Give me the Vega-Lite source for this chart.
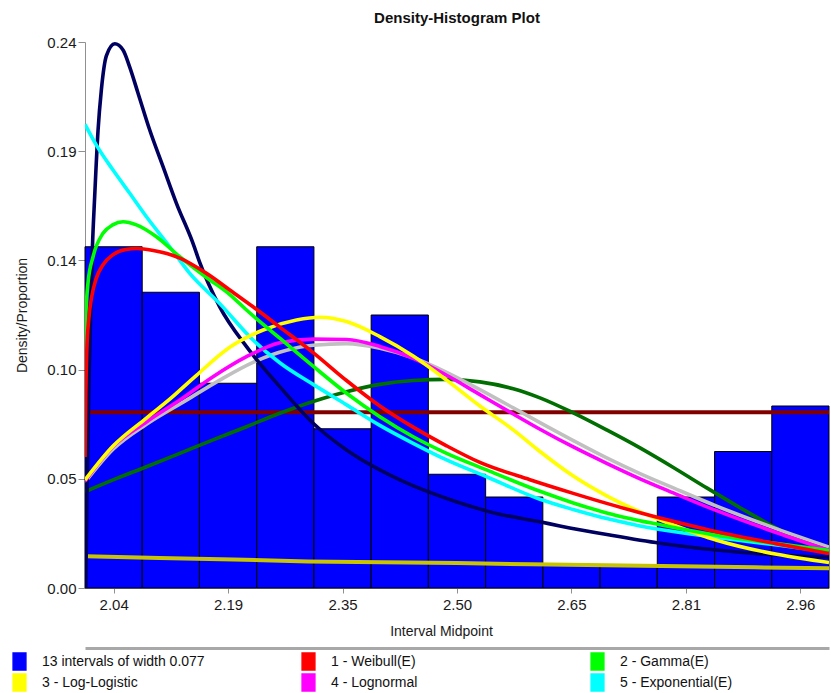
{
  "$schema": "https://vega.github.io/schema/vega-lite/v6.json",
  "autosize": "none",
  "padding": {"left": 85, "top": 42, "right": 2, "bottom": 105},
  "width": 744,
  "height": 546,
  "background": "white",
  "title": {"text": "Density-Histogram Plot", "font": "Liberation Sans", "fontSize": 15, "fontWeight": "bold", "color": "#111", "anchor": "middle", "offset": 9},
  "config": {"view": {"stroke": null}, "font": "Liberation Sans"},
  "resolve": {"axis": {"x": "independent"}},
  "datasets": {
    "bars": [
      {"lo": 2.0, "hi": 2.0769, "p": 0.15, "series": "13 intervals of width 0.077"},
      {"lo": 2.0769, "hi": 2.1538, "p": 0.13, "series": "13 intervals of width 0.077"},
      {"lo": 2.1538, "hi": 2.2308, "p": 0.09, "series": "13 intervals of width 0.077"},
      {"lo": 2.2308, "hi": 2.3077, "p": 0.15, "series": "13 intervals of width 0.077"},
      {"lo": 2.3077, "hi": 2.3846, "p": 0.07, "series": "13 intervals of width 0.077"},
      {"lo": 2.3846, "hi": 2.4615, "p": 0.12, "series": "13 intervals of width 0.077"},
      {"lo": 2.4615, "hi": 2.5385, "p": 0.05, "series": "13 intervals of width 0.077"},
      {"lo": 2.5385, "hi": 2.6154, "p": 0.04, "series": "13 intervals of width 0.077"},
      {"lo": 2.6154, "hi": 2.6923, "p": 0.01, "series": "13 intervals of width 0.077"},
      {"lo": 2.6923, "hi": 2.7692, "p": 0.01, "series": "13 intervals of width 0.077"},
      {"lo": 2.7692, "hi": 2.8462, "p": 0.04, "series": "13 intervals of width 0.077"},
      {"lo": 2.8462, "hi": 2.9231, "p": 0.06, "series": "13 intervals of width 0.077"},
      {"lo": 2.9231, "hi": 3.0, "p": 0.08, "series": "13 intervals of width 0.077"}
    ],
    "thick": [
      {"s": "olive", "x": 2.002, "y": 0.0140},
      {"s": "olive", "x": 2.1, "y": 0.0132},
      {"s": "olive", "x": 2.2, "y": 0.0125},
      {"s": "olive", "x": 2.3, "y": 0.0117},
      {"s": "olive", "x": 2.4, "y": 0.0113},
      {"s": "olive", "x": 2.5, "y": 0.0110},
      {"s": "olive", "x": 2.6, "y": 0.0104},
      {"s": "olive", "x": 2.7, "y": 0.0100},
      {"s": "olive", "x": 2.8, "y": 0.0096},
      {"s": "olive", "x": 2.9, "y": 0.0091},
      {"s": "olive", "x": 3.0, "y": 0.0087},
      {"s": "dkred", "x": 2.0, "y": 0.0772},
      {"s": "dkred", "x": 3.0, "y": 0.0772}
    ],
    "extras": [
      {"s": "dkgreen", "x": 2.0, "y": 0.0423},
      {"s": "dkgreen", "x": 2.0377, "y": 0.0475},
      {"s": "dkgreen", "x": 2.0826, "y": 0.0533},
      {"s": "dkgreen", "x": 2.1274, "y": 0.0592},
      {"s": "dkgreen", "x": 2.1721, "y": 0.0651},
      {"s": "dkgreen", "x": 2.2171, "y": 0.0709},
      {"s": "dkgreen", "x": 2.2618, "y": 0.0768},
      {"s": "dkgreen", "x": 2.3066, "y": 0.0820},
      {"s": "dkgreen", "x": 2.3515, "y": 0.0863},
      {"s": "dkgreen", "x": 2.3963, "y": 0.0895},
      {"s": "dkgreen", "x": 2.4411, "y": 0.0912},
      {"s": "dkgreen", "x": 2.4860, "y": 0.0917},
      {"s": "dkgreen", "x": 2.5308, "y": 0.0906},
      {"s": "dkgreen", "x": 2.5756, "y": 0.0876},
      {"s": "dkgreen", "x": 2.6115, "y": 0.0836},
      {"s": "dkgreen", "x": 2.6563, "y": 0.0770},
      {"s": "dkgreen", "x": 2.7012, "y": 0.0695},
      {"s": "dkgreen", "x": 2.7460, "y": 0.0616},
      {"s": "dkgreen", "x": 2.7908, "y": 0.0530},
      {"s": "dkgreen", "x": 2.8357, "y": 0.0440},
      {"s": "dkgreen", "x": 2.8805, "y": 0.0353},
      {"s": "dkgreen", "x": 2.9208, "y": 0.0278},
      {"s": "dkgreen", "x": 2.9600, "y": 0.0214},
      {"s": "dkgreen", "x": 3.0, "y": 0.0160},
      {"s": "gray", "x": 2.0, "y": 0.0465},
      {"s": "gray", "x": 2.0377, "y": 0.0610},
      {"s": "gray", "x": 2.0826, "y": 0.0720},
      {"s": "gray", "x": 2.1364, "y": 0.0826},
      {"s": "gray", "x": 2.1811, "y": 0.0914},
      {"s": "gray", "x": 2.2259, "y": 0.0992},
      {"s": "gray", "x": 2.2708, "y": 0.1045},
      {"s": "gray", "x": 2.3066, "y": 0.1067},
      {"s": "gray", "x": 2.3515, "y": 0.1074},
      {"s": "gray", "x": 2.3963, "y": 0.1054},
      {"s": "gray", "x": 2.4411, "y": 0.1012},
      {"s": "gray", "x": 2.4860, "y": 0.0948},
      {"s": "gray", "x": 2.5308, "y": 0.0872},
      {"s": "gray", "x": 2.5756, "y": 0.0792},
      {"s": "gray", "x": 2.6115, "y": 0.0727},
      {"s": "gray", "x": 2.6563, "y": 0.0648},
      {"s": "gray", "x": 2.7012, "y": 0.0572},
      {"s": "gray", "x": 2.7460, "y": 0.0503},
      {"s": "gray", "x": 2.7908, "y": 0.0440},
      {"s": "gray", "x": 2.8490, "y": 0.0360},
      {"s": "gray", "x": 2.9298, "y": 0.0260},
      {"s": "gray", "x": 3.0, "y": 0.0180},
      {"s": "navy", "x": 2.001, "y": 0.0},
      {"s": "navy", "x": 2.003, "y": 0.05},
      {"s": "navy", "x": 2.006, "y": 0.10},
      {"s": "navy", "x": 2.010, "y": 0.150},
      {"s": "navy", "x": 2.013, "y": 0.172},
      {"s": "navy", "x": 2.0175, "y": 0.201},
      {"s": "navy", "x": 2.022, "y": 0.219},
      {"s": "navy", "x": 2.0288, "y": 0.234},
      {"s": "navy", "x": 2.040, "y": 0.2392},
      {"s": "navy", "x": 2.0511, "y": 0.2365},
      {"s": "navy", "x": 2.060, "y": 0.2291},
      {"s": "navy", "x": 2.0713, "y": 0.2175},
      {"s": "navy", "x": 2.087, "y": 0.2013},
      {"s": "navy", "x": 2.1049, "y": 0.1852},
      {"s": "navy", "x": 2.1229, "y": 0.1691},
      {"s": "navy", "x": 2.1452, "y": 0.1515},
      {"s": "navy", "x": 2.1543, "y": 0.1430},
      {"s": "navy", "x": 2.1811, "y": 0.1236},
      {"s": "navy", "x": 2.2171, "y": 0.1061},
      {"s": "navy", "x": 2.2618, "y": 0.0885},
      {"s": "navy", "x": 2.3066, "y": 0.0724},
      {"s": "navy", "x": 2.3515, "y": 0.0607},
      {"s": "navy", "x": 2.3963, "y": 0.0519},
      {"s": "navy", "x": 2.4232, "y": 0.0475},
      {"s": "navy", "x": 2.5, "y": 0.0378},
      {"s": "navy", "x": 2.55, "y": 0.0330},
      {"s": "navy", "x": 2.6113, "y": 0.0291},
      {"s": "navy", "x": 2.6382, "y": 0.0273},
      {"s": "navy", "x": 2.7054, "y": 0.0233},
      {"s": "navy", "x": 2.7727, "y": 0.0197},
      {"s": "navy", "x": 2.8491, "y": 0.0167},
      {"s": "navy", "x": 2.9298, "y": 0.0145},
      {"s": "navy", "x": 3.0, "y": 0.0135}
    ],
    "fits": [
      {"s": "5 - Exponential(E)", "x": 2.0, "y": 0.2038},
      {"s": "5 - Exponential(E)", "x": 2.0153, "y": 0.1947},
      {"s": "5 - Exponential(E)", "x": 2.0377, "y": 0.1837},
      {"s": "5 - Exponential(E)", "x": 2.0601, "y": 0.1735},
      {"s": "5 - Exponential(E)", "x": 2.0826, "y": 0.1632},
      {"s": "5 - Exponential(E)", "x": 2.1139, "y": 0.1500},
      {"s": "5 - Exponential(E)", "x": 2.1408, "y": 0.1383},
      {"s": "5 - Exponential(E)", "x": 2.1811, "y": 0.1250},
      {"s": "5 - Exponential(E)", "x": 2.2259, "y": 0.1090},
      {"s": "5 - Exponential(E)", "x": 2.2618, "y": 0.0990},
      {"s": "5 - Exponential(E)", "x": 2.3066, "y": 0.0895},
      {"s": "5 - Exponential(E)", "x": 2.3515, "y": 0.0805},
      {"s": "5 - Exponential(E)", "x": 2.3963, "y": 0.0715},
      {"s": "5 - Exponential(E)", "x": 2.4411, "y": 0.0636},
      {"s": "5 - Exponential(E)", "x": 2.4860, "y": 0.0563},
      {"s": "5 - Exponential(E)", "x": 2.5398, "y": 0.0489},
      {"s": "5 - Exponential(E)", "x": 2.6115, "y": 0.0390},
      {"s": "5 - Exponential(E)", "x": 2.6563, "y": 0.0345},
      {"s": "5 - Exponential(E)", "x": 2.7012, "y": 0.0305},
      {"s": "5 - Exponential(E)", "x": 2.7460, "y": 0.0273},
      {"s": "5 - Exponential(E)", "x": 2.7729, "y": 0.0257},
      {"s": "5 - Exponential(E)", "x": 2.8491, "y": 0.0222},
      {"s": "5 - Exponential(E)", "x": 2.9298, "y": 0.0189},
      {"s": "5 - Exponential(E)", "x": 3.0, "y": 0.0160},
      {"s": "4 - Lognormal", "x": 2.0, "y": 0.0470},
      {"s": "4 - Lognormal", "x": 2.0377, "y": 0.0622},
      {"s": "4 - Lognormal", "x": 2.0826, "y": 0.0730},
      {"s": "4 - Lognormal", "x": 2.1274, "y": 0.0826},
      {"s": "4 - Lognormal", "x": 2.1721, "y": 0.0929},
      {"s": "4 - Lognormal", "x": 2.2171, "y": 0.1017},
      {"s": "4 - Lognormal", "x": 2.2618, "y": 0.1078},
      {"s": "4 - Lognormal", "x": 2.3066, "y": 0.1094},
      {"s": "4 - Lognormal", "x": 2.3515, "y": 0.1092},
      {"s": "4 - Lognormal", "x": 2.3963, "y": 0.1062},
      {"s": "4 - Lognormal", "x": 2.4411, "y": 0.1010},
      {"s": "4 - Lognormal", "x": 2.4860, "y": 0.0935},
      {"s": "4 - Lognormal", "x": 2.5308, "y": 0.0850},
      {"s": "4 - Lognormal", "x": 2.5756, "y": 0.0765},
      {"s": "4 - Lognormal", "x": 2.6115, "y": 0.0698},
      {"s": "4 - Lognormal", "x": 2.6563, "y": 0.0620},
      {"s": "4 - Lognormal", "x": 2.7012, "y": 0.0548},
      {"s": "4 - Lognormal", "x": 2.7460, "y": 0.0480},
      {"s": "4 - Lognormal", "x": 2.7908, "y": 0.0418},
      {"s": "4 - Lognormal", "x": 2.8490, "y": 0.0340},
      {"s": "4 - Lognormal", "x": 2.9298, "y": 0.0243},
      {"s": "4 - Lognormal", "x": 3.0, "y": 0.0165},
      {"s": "3 - Log-Logistic", "x": 2.0, "y": 0.0475},
      {"s": "3 - Log-Logistic", "x": 2.0377, "y": 0.0624},
      {"s": "3 - Log-Logistic", "x": 2.0826, "y": 0.0747},
      {"s": "3 - Log-Logistic", "x": 2.1139, "y": 0.0830},
      {"s": "3 - Log-Logistic", "x": 2.1498, "y": 0.0935},
      {"s": "3 - Log-Logistic", "x": 2.1946, "y": 0.1058},
      {"s": "3 - Log-Logistic", "x": 2.2394, "y": 0.1134},
      {"s": "3 - Log-Logistic", "x": 2.2843, "y": 0.1178},
      {"s": "3 - Log-Logistic", "x": 2.3156, "y": 0.1190},
      {"s": "3 - Log-Logistic", "x": 2.3515, "y": 0.1171},
      {"s": "3 - Log-Logistic", "x": 2.3963, "y": 0.1105},
      {"s": "3 - Log-Logistic", "x": 2.4411, "y": 0.1020},
      {"s": "3 - Log-Logistic", "x": 2.4860, "y": 0.0914},
      {"s": "3 - Log-Logistic", "x": 2.5308, "y": 0.0800},
      {"s": "3 - Log-Logistic", "x": 2.5756, "y": 0.0695},
      {"s": "3 - Log-Logistic", "x": 2.6115, "y": 0.0600},
      {"s": "3 - Log-Logistic", "x": 2.6563, "y": 0.0492},
      {"s": "3 - Log-Logistic", "x": 2.7012, "y": 0.0405},
      {"s": "3 - Log-Logistic", "x": 2.7460, "y": 0.0335},
      {"s": "3 - Log-Logistic", "x": 2.7908, "y": 0.0277},
      {"s": "3 - Log-Logistic", "x": 2.8490, "y": 0.0210},
      {"s": "3 - Log-Logistic", "x": 2.9298, "y": 0.0148},
      {"s": "3 - Log-Logistic", "x": 3.0, "y": 0.0112},
      {"s": "2 - Gamma(E)", "x": 2.0, "y": 0.0769},
      {"s": "2 - Gamma(E)", "x": 2.0003, "y": 0.1130},
      {"s": "2 - Gamma(E)", "x": 2.0040, "y": 0.1340},
      {"s": "2 - Gamma(E)", "x": 2.0108, "y": 0.1456},
      {"s": "2 - Gamma(E)", "x": 2.0242, "y": 0.1559},
      {"s": "2 - Gamma(E)", "x": 2.0373, "y": 0.1596},
      {"s": "2 - Gamma(E)", "x": 2.0511, "y": 0.1610},
      {"s": "2 - Gamma(E)", "x": 2.0691, "y": 0.1596},
      {"s": "2 - Gamma(E)", "x": 2.0960, "y": 0.1544},
      {"s": "2 - Gamma(E)", "x": 2.1274, "y": 0.1456},
      {"s": "2 - Gamma(E)", "x": 2.1633, "y": 0.1365},
      {"s": "2 - Gamma(E)", "x": 2.1946, "y": 0.1290},
      {"s": "2 - Gamma(E)", "x": 2.2171, "y": 0.1222},
      {"s": "2 - Gamma(E)", "x": 2.2618, "y": 0.1098},
      {"s": "2 - Gamma(E)", "x": 2.3066, "y": 0.0975},
      {"s": "2 - Gamma(E)", "x": 2.3515, "y": 0.0856},
      {"s": "2 - Gamma(E)", "x": 2.3963, "y": 0.0753},
      {"s": "2 - Gamma(E)", "x": 2.4411, "y": 0.0665},
      {"s": "2 - Gamma(E)", "x": 2.4860, "y": 0.0592},
      {"s": "2 - Gamma(E)", "x": 2.5398, "y": 0.0519},
      {"s": "2 - Gamma(E)", "x": 2.6115, "y": 0.0425},
      {"s": "2 - Gamma(E)", "x": 2.6563, "y": 0.0374},
      {"s": "2 - Gamma(E)", "x": 2.7012, "y": 0.0330},
      {"s": "2 - Gamma(E)", "x": 2.7729, "y": 0.0278},
      {"s": "2 - Gamma(E)", "x": 2.8491, "y": 0.0232},
      {"s": "2 - Gamma(E)", "x": 2.9298, "y": 0.0195},
      {"s": "2 - Gamma(E)", "x": 3.0, "y": 0.0165},
      {"s": "1 - Weibull(E)", "x": 2.0, "y": 0.0576},
      {"s": "1 - Weibull(E)", "x": 2.0010, "y": 0.0850},
      {"s": "1 - Weibull(E)", "x": 2.0025, "y": 0.1050},
      {"s": "1 - Weibull(E)", "x": 2.0050, "y": 0.1180},
      {"s": "1 - Weibull(E)", "x": 2.0090, "y": 0.1280},
      {"s": "1 - Weibull(E)", "x": 2.0150, "y": 0.1360},
      {"s": "1 - Weibull(E)", "x": 2.0240, "y": 0.1420},
      {"s": "1 - Weibull(E)", "x": 2.0377, "y": 0.1465},
      {"s": "1 - Weibull(E)", "x": 2.0550, "y": 0.1488},
      {"s": "1 - Weibull(E)", "x": 2.0700, "y": 0.1492},
      {"s": "1 - Weibull(E)", "x": 2.0900, "y": 0.1485},
      {"s": "1 - Weibull(E)", "x": 2.1100, "y": 0.1470},
      {"s": "1 - Weibull(E)", "x": 2.1274, "y": 0.1450},
      {"s": "1 - Weibull(E)", "x": 2.1633, "y": 0.1383},
      {"s": "1 - Weibull(E)", "x": 2.1946, "y": 0.1310},
      {"s": "1 - Weibull(E)", "x": 2.2259, "y": 0.1236},
      {"s": "1 - Weibull(E)", "x": 2.2618, "y": 0.1147},
      {"s": "1 - Weibull(E)", "x": 2.3066, "y": 0.1035},
      {"s": "1 - Weibull(E)", "x": 2.3515, "y": 0.0912},
      {"s": "1 - Weibull(E)", "x": 2.3963, "y": 0.0800},
      {"s": "1 - Weibull(E)", "x": 2.4411, "y": 0.0707},
      {"s": "1 - Weibull(E)", "x": 2.4860, "y": 0.0625},
      {"s": "1 - Weibull(E)", "x": 2.5308, "y": 0.0552},
      {"s": "1 - Weibull(E)", "x": 2.5980, "y": 0.0476},
      {"s": "1 - Weibull(E)", "x": 2.6563, "y": 0.0416},
      {"s": "1 - Weibull(E)", "x": 2.7012, "y": 0.0372},
      {"s": "1 - Weibull(E)", "x": 2.7460, "y": 0.0331},
      {"s": "1 - Weibull(E)", "x": 2.8042, "y": 0.0282},
      {"s": "1 - Weibull(E)", "x": 2.8491, "y": 0.0247},
      {"s": "1 - Weibull(E)", "x": 2.9298, "y": 0.0194},
      {"s": "1 - Weibull(E)", "x": 3.0, "y": 0.0152}
    ]
  },
  "layer": [
    {
      "data": {"name": "bars"},
      "mark": {"type": "bar", "stroke": "black", "strokeWidth": 1, "opacity": 1},
      "encoding": {
        "x": {
          "field": "lo", "type": "quantitative",
          "scale": {"domain": [2.0, 3.0], "nice": false, "zero": false},
          "axis": {
            "values": [2.0385, 2.1923, 2.3462, 2.5, 2.6538, 2.8077, 2.9615],
            "format": ".2f", "title": "Interval Midpoint", "grid": false,
            "labelFont": "Liberation Sans", "labelFontSize": 15, "labelColor": "#1a1a1a",
            "titleFont": "Liberation Sans", "titleFontSize": 14, "titleFontWeight": "normal", "titleColor": "#1a1a1a",
            "tickSize": 5, "tickColor": "#909090", "domainColor": "#909090",
            "labelPadding": 4, "titlePadding": 12, "titleX": 356
          }
        },
        "x2": {"field": "hi"},
        "y": {
          "field": "p", "type": "quantitative",
          "scale": {"domain": [0, 0.24], "nice": false, "zero": true},
          "axis": {
            "values": [0, 0.048, 0.096, 0.144, 0.192, 0.24],
            "format": ".2f", "title": "Density/Proportion", "grid": false,
            "labelFont": "Liberation Sans", "labelFontSize": 15, "labelColor": "#1a1a1a",
            "titleFont": "Liberation Sans", "titleFontSize": 14, "titleFontWeight": "normal", "titleColor": "#1a1a1a",
            "tickSize": 7, "tickColor": "#909090", "domainColor": "#909090",
            "labelPadding": 2, "titlePadding": 17
          }
        },
        "y2": {"datum": 0},
        "color": {
          "field": "series", "type": "nominal",
          "scale": {
            "domain": ["13 intervals of width 0.077", "1 - Weibull(E)", "2 - Gamma(E)", "3 - Log-Logistic", "4 - Lognormal", "5 - Exponential(E)"],
            "range": ["#0000FF", "#FF0000", "#00FF00", "#FFFF00", "#FF00FF", "#00FFFF"]
          },
          "legend": {
            "orient": "none", "legendX": -75, "legendY": 610, "direction": "horizontal", "columns": 3,
            "title": null, "padding": 0, "gridAlign": "all", "columnPadding": 94, "rowPadding": -3,
            "symbolType": "M-0.75,-1H0.75V1H-0.75Z", "symbolSize": 289,
            "labelFont": "Liberation Sans", "labelFontSize": 14, "labelColor": "#111", "labelOffset": 13, "labelLimit": 400,
            "encode": {"symbols": {"update": {"fill": {"scale": "color", "field": "value"}, "stroke": {"value": "black"}, "strokeWidth": {"value": 1}, "opacity": {"value": 1}, "fillOpacity": {"value": 1}}}}
          }
        }
      }
    },
    {
      "data": {"name": "thick"},
      "mark": {"type": "line", "interpolate": "linear", "clip": true, "strokeWidth": 4},
      "encoding": {
        "x": {
          "field": "x", "type": "quantitative",
          "axis": {"orient": "bottom", "offset": 60, "labels": false, "ticks": false, "title": null, "grid": false, "domainColor": "#a8a8a8", "domainWidth": 3}
        },
        "y": {"field": "y", "type": "quantitative"},
        "stroke": {
          "field": "s", "type": "nominal",
          "scale": {"domain": ["olive", "navy", "dkgreen", "dkred", "gray"], "range": ["#C8C400", "#000060", "#006E00", "#800000", "#C0C0C0"]},
          "legend": null
        }
      }
    },
    {
      "data": {"name": "extras"},
      "mark": {"type": "line", "interpolate": "monotone", "clip": true, "strokeWidth": 3.6},
      "encoding": {
        "x": {"field": "x", "type": "quantitative", "axis": null},
        "y": {"field": "y", "type": "quantitative"},
        "stroke": {
          "field": "s", "type": "nominal",
          "scale": {"domain": ["olive", "navy", "dkgreen", "dkred", "gray"], "range": ["#C8C400", "#000060", "#006E00", "#800000", "#C0C0C0"]},
          "legend": null
        }
      }
    },
    {
      "data": {"name": "fits"},
      "mark": {"type": "line", "interpolate": "monotone", "clip": true, "strokeWidth": 3.6},
      "encoding": {
        "x": {"field": "x", "type": "quantitative", "axis": null},
        "y": {"field": "y", "type": "quantitative"},
        "color": {"field": "s", "type": "nominal"}
      }
    }
  ]
}
